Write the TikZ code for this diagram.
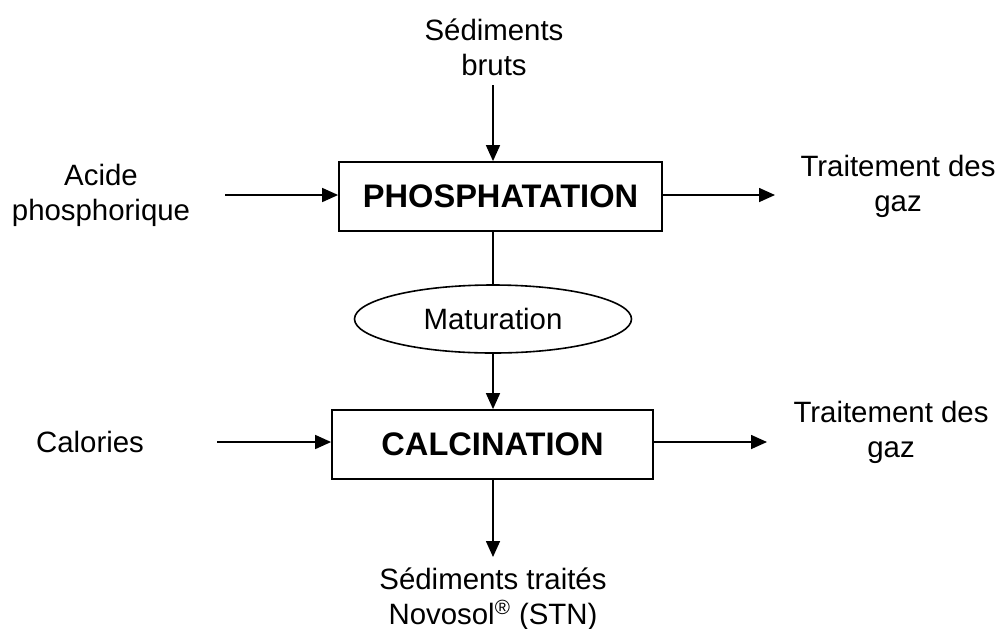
\documentclass[tikz,border=0pt]{standalone}
\usepackage{fontspec}
\setmainfont{Liberation Sans}
\usetikzlibrary{arrows.meta,shapes.geometric}
\begin{document}
\begin{tikzpicture}[x=0.5pt,y=-0.5pt,
  lab/.style={align=center,inner sep=0pt,font=\fontsize{14.7}{17.5}\selectfont},
  box/.style={draw,line width=0.9pt,inner sep=0pt,font=\fontsize{16.3}{19}\selectfont\bfseries},
  oval/.style={draw,ellipse,line width=0.8pt,inner sep=0pt,font=\fontsize{14.7}{17.5}\selectfont},
  arr/.style={line width=0.8pt,-{Triangle[length=8pt,width=7pt]}},
  ln/.style={line width=0.8pt}]
\useasboundingbox (0,0) rectangle (1001,628);
% boxes
\node[box,minimum width=161.5pt,minimum height=34.5pt] (phos) at (500.5,196.5) {PHOSPHATATION};
\node[box,minimum width=160.5pt,minimum height=34.5pt] (calc) at (492.5,444.5) {CALCINATION};
\node[oval,minimum width=138.5pt,minimum height=34pt] (mat) at (493,319) {Maturation};
% labels
\node[lab] (sedb) at (494,47.5) {Sédiments\\bruts};
\node[lab] (acide) at (101,195) {Acide\\phosphorique};
\node[lab] (cal) at (90,442) {Calories};
\node[lab] (tg1) at (898,186.5) {Traitement des\\gaz};
\node[lab] (tg2) at (891,432.5) {Traitement des\\gaz};
\node[lab] (sedt) at (493,599.5) {Sédiments traités\\Novosol\textsuperscript{®} (STN)};
% free ends
\coordinate (t1) at (493,85);
\coordinate (b1) at (493,557);
\coordinate (l1) at (225,195);
\coordinate (l2) at (217,442);
\coordinate (r1) at (775,195);
\coordinate (r2) at (767,442);
% connectors
\draw[arr] (t1) -- (t1 |- phos.north);
\draw[ln] (mat.north |- phos.south) -- (mat.north);
\draw[arr] (mat.south) -- (mat.south |- calc.north);
\draw[arr] (b1 |- calc.south) -- (b1);
\draw[arr] (l1) -- (l1 -| phos.west);
\draw[arr] (l2) -- (l2 -| calc.west);
\draw[arr] (r1 -| phos.east) -- (r1);
\draw[arr] (r2 -| calc.east) -- (r2);
\end{tikzpicture}
\end{document}
